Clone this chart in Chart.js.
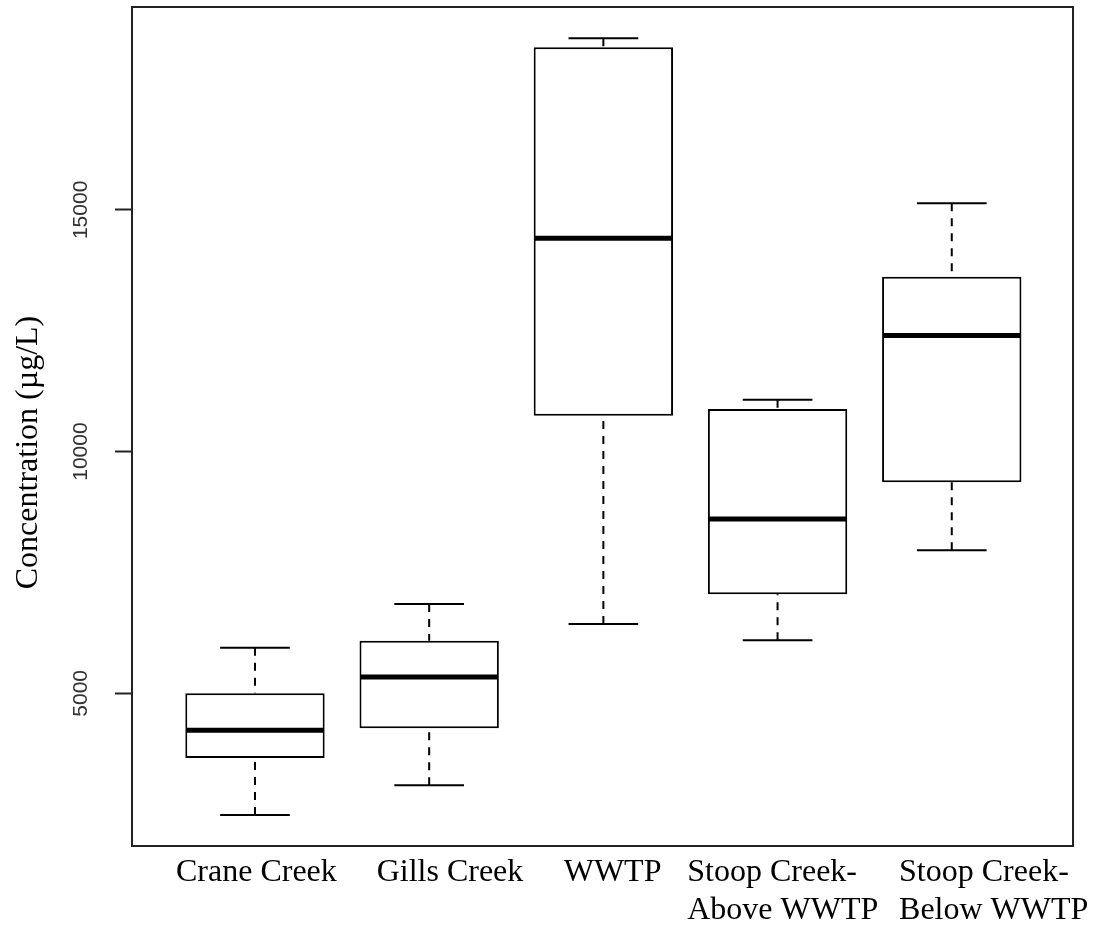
<!DOCTYPE html>
<html>
<head>
<meta charset="utf-8">
<script src="https://cdn.jsdelivr.net/npm/chart.js@4.4.0/dist/chart.umd.min.js"></script>
<style>
  html, body { margin: 0; padding: 0; background: #ffffff; }
  #wrap { width: 1095px; height: 925px; }
</style>
</head>
<body>
<div id="wrap"><canvas id="chart" width="1095" height="925"></canvas></div>
<script>
// Sites along the x axis (multi-line names are given as arrays of lines)
const categories = [
  "Crane Creek",
  "Gills Creek",
  "WWTP",
  ["Stoop Creek-", "Above WWTP"],
  ["Stoop Creek-", "Below WWTP"]
];

// Five-number summaries per site, concentration in µg/L
const whiskerLow  = [2485, 3099, 6436, 6098, 7960];
const quartile1   = [3664, 4278, 10739, 7050, 9367];
const medians     = [4237, 5339, 14415, 8608, 12400];
const quartile3   = [5002, 6090, 18366, 10883, 13614];
const whiskerHigh = [5945, 6849, 18552, 11070, 15139];

// Value axis ticks
const yTicks = [5000, 10000, 15000];
const yTitle = 'Concentration (µg/L)';

// Where each site name starts, relative to its box centre (in axis units)
const labelStartShift = [-0.4535, -0.3014, -0.2279, -0.5184, -0.3025];

const X_MIN = 0.294;
const X_MAX = 5.696;
const INK = '#000000';
const FRAME = '#222222';
const SERIF = '"Liberation Serif", "Times New Roman", serif';

// Whiskers, caps and median lines, positioned from the bar elements and the scales
const boxplotParts = {
  id: 'boxplotParts',
  afterDatasetsDraw(chart) {
    const ctx = chart.ctx;
    const y = chart.scales.y;
    const meta = chart.getDatasetMeta(0);
    ctx.save();
    meta.data.forEach((bar, i) => {
      const cx = bar.x;
      const half = bar.width / 2;
      const capHalf = bar.width / 4;
      const yLo = y.getPixelForValue(whiskerLow[i]);
      const yQ1 = y.getPixelForValue(quartile1[i]);
      const yMed = y.getPixelForValue(medians[i]);
      const yQ3 = y.getPixelForValue(quartile3[i]);
      const yHi = y.getPixelForValue(whiskerHigh[i]);

      // dashed whiskers, drawn from the whisker end toward the hinge
      ctx.strokeStyle = INK;
      ctx.lineWidth = 2;
      ctx.lineCap = 'butt';
      ctx.setLineDash([8, 7]);
      ctx.beginPath();
      ctx.moveTo(cx, yHi); ctx.lineTo(cx, yQ3);
      ctx.moveTo(cx, yLo); ctx.lineTo(cx, yQ1);
      ctx.stroke();

      // whisker caps
      ctx.setLineDash([]);
      ctx.beginPath();
      ctx.moveTo(cx - capHalf, yHi); ctx.lineTo(cx + capHalf, yHi);
      ctx.moveTo(cx - capHalf, yLo); ctx.lineTo(cx + capHalf, yLo);
      ctx.stroke();

      // median
      ctx.lineWidth = 5;
      ctx.beginPath();
      ctx.moveTo(cx - half + 1, yMed); ctx.lineTo(cx + half - 1, yMed);
      ctx.stroke();
    });
    ctx.restore();
  }
};

// Box around the plotting region and the rotated value-axis title
const plotFrame = {
  id: 'plotFrame',
  afterDraw(chart) {
    const a = chart.chartArea;
    const ctx = chart.ctx;
    ctx.save();
    ctx.strokeStyle = FRAME;
    ctx.lineWidth = 2;
    ctx.strokeRect(a.left, a.top, a.right - a.left, a.bottom - a.top);

    ctx.translate(29, (a.top + a.bottom) / 2 + 26);
    ctx.rotate(-Math.PI / 2);
    ctx.fillStyle = INK;
    ctx.font = '32px ' + SERIF;
    ctx.textAlign = 'center';
    ctx.textBaseline = 'middle';
    ctx.fillText(yTitle, 0, 0);
    ctx.restore();
  }
};

new Chart(document.getElementById('chart'), {
  type: 'bar',
  data: {
    datasets: [{
      data: categories.map((c, i) => ({ x: i + 1, y: [quartile1[i], quartile3[i]] })),
      backgroundColor: '#ffffff',
      borderColor: INK,
      borderWidth: 2,
      borderSkipped: false,
      barPercentage: 0.8,
      categoryPercentage: 1.0
    }]
  },
  options: {
    responsive: false,
    animation: false,
    events: [],
    layout: { padding: { top: 7, right: 22, bottom: 0, left: 0 } },
    plugins: {
      legend: { display: false },
      tooltip: { enabled: false },
      title: { display: false }
    },
    scales: {
      // positions of the boxes (one unit per site); not drawn
      x: {
        type: 'linear',
        display: false,
        offset: false,
        min: X_MIN,
        max: X_MAX,
        afterBuildTicks(scale) {
          scale.ticks = categories.map((c, i) => ({ value: i + 1 }));
        }
      },
      // site names under the plot
      siteNames: {
        type: 'linear',
        axis: 'x',
        position: 'bottom',
        offset: false,
        min: X_MIN,
        max: X_MAX,
        afterBuildTicks(scale) {
          scale.ticks = categories.map((c, i) => ({ value: i + 1 + labelStartShift[i] }));
        },
        afterFit(scale) {
          scale.height = 79;
          scale.paddingLeft = 0;
          scale.paddingRight = 0;
        },
        grid: { offset: false, drawOnChartArea: false, drawTicks: false },
        border: { display: false },
        ticks: {
          autoSkip: false,
          maxRotation: 0,
          minRotation: 0,
          align: 'start',
          padding: 7,
          color: INK,
          font: { family: SERIF, size: 32, lineHeight: 1.2 },
          callback(value, index) { return categories[index]; }
        }
      },
      y: {
        type: 'linear',
        min: 1842,
        max: 19196,
        afterBuildTicks(scale) {
          scale.ticks = yTicks.map(v => ({ value: v }));
        },
        afterFit(scale) {
          scale.width = 132;
          scale.paddingTop = 0;
          scale.paddingBottom = 0;
        },
        grid: {
          drawOnChartArea: false,
          drawTicks: true,
          tickLength: 17,
          tickWidth: 2,
          tickColor: FRAME
        },
        border: { display: false },
        ticks: {
          minRotation: 90,
          maxRotation: 90,
          crossAlign: 'center',
          padding: 5,
          color: '#333333',
          font: { family: '"Liberation Sans", Arial, sans-serif', size: 21 },
          callback(value) { return String(value); }
        }
      }
    }
  },
  plugins: [boxplotParts, plotFrame]
});
</script>
</body>
</html>
